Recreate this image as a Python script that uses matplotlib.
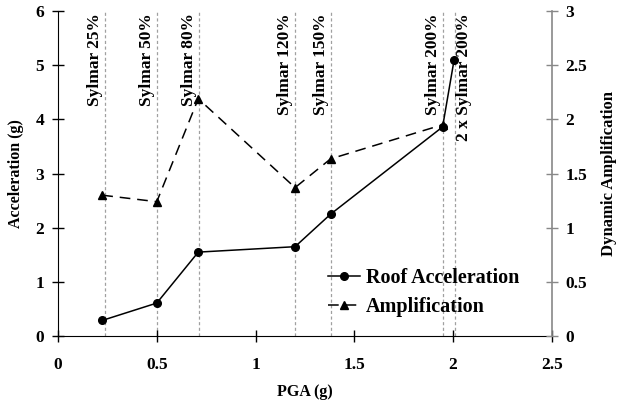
import matplotlib
matplotlib.use("Agg")
import matplotlib.pyplot as plt

plt.rcParams['font.family'] = ['Liberation Serif', 'DejaVu Serif']
plt.rcParams['font.weight'] = 'bold'

# Data
pga_roof = [0.224, 0.50, 0.71, 1.20, 1.38, 1.947, 2.005]
roof_acc = [0.29, 0.61, 1.55, 1.65, 2.25, 3.86, 5.09]
pga_amp = [0.224, 0.50, 0.71, 1.20, 1.38, 1.947]
amplification = [1.30, 1.24, 2.19, 1.37, 1.635, 1.95]

record_pga = [0.238, 0.501, 0.714, 1.199, 1.382, 1.947, 2.009]
record_labels = ['Sylmar 25%', 'Sylmar 50%', 'Sylmar 80%', 'Sylmar 120%',
                 'Sylmar 150%', 'Sylmar 200%', '2 x Sylmar 200%']
x_ticks = [0, 0.5, 1, 1.5, 2, 2.5]
x_ticklabels = ['0', '0.5', '1', '1.5', '2', '2.5']
y_ticks = [0, 1, 2, 3, 4, 5, 6]
y2_ticks = [0, 0.5, 1, 1.5, 2, 2.5, 3]
y2_ticklabels = ['0', '0.5', '1', '1.5', '2', '2.5', '3']

fig = plt.figure(figsize=(6.18, 4.04), dpi=100)
ax = fig.add_axes([0.0939, 0.168, 0.799, 0.805])
ax2 = ax.twinx()

ax.set_xlim(0, 2.5)
ax.set_ylim(0, 6)
ax2.set_ylim(0, 3)

for xv, lab in zip(record_pga, record_labels):
    ax.axvline(xv, color='#a0a0a0', lw=0.9, ls=(0, (2.5, 2)), zorder=1)
    if lab.startswith('2 x'):
        ax.text(xv + 0.004, 5.96, lab, rotation=90, ha='left', va='top',
                fontsize=12.5, fontweight='bold')
    else:
        ax.text(xv - 0.008, 5.96, lab, rotation=90, ha='right', va='top',
                fontsize=12.5, fontweight='bold')

l1, = ax.plot(pga_roof, roof_acc, color='black', lw=1.1, marker='o',
              markersize=5.5, label='Roof Acceleration', zorder=3)
l2, = ax2.plot(pga_amp, amplification, color='black', lw=1.1,
               ls=(0, (7, 4.5)), marker='^', markersize=5.5,
               label='Amplification', zorder=3)

ax.set_xticks(x_ticks)
ax.set_xticklabels(x_ticklabels)
ax.set_yticks(y_ticks)
ax2.set_yticks(y2_ticks)
ax2.set_yticklabels(y2_ticklabels)

ax.tick_params(axis='x', direction='inout', length=8, width=1, pad=11,
               labelsize=12.5)
ax.tick_params(axis='y', direction='inout', length=8, width=1, pad=6,
               labelsize=12.5)
ax2.tick_params(axis='y', direction='inout', length=8, width=1, pad=6,
                labelsize=12.5, color='#888888')
for t in ax.get_xticklabels() + ax.get_yticklabels() + ax2.get_yticklabels():
    t.set_fontweight('bold')

ax.spines['top'].set_visible(False)
ax2.spines['top'].set_visible(False)
ax.spines['right'].set_visible(False)
ax2.spines['left'].set_visible(False)
ax2.spines['right'].set_color('#888888')
ax2.spines['right'].set_linewidth(1.2)
ax2.spines['bottom'].set_visible(False)

ax.set_xlabel('PGA (g)', fontsize=11.5, fontweight='bold', labelpad=8)
ax.set_ylabel('Acceleration (g)', fontsize=11.5, fontweight='bold', labelpad=8)
ax2.set_ylabel('Dynamic Amplification', fontsize=12, fontweight='bold',
               labelpad=10)

leg = ax2.legend(handles=[l1, l2], loc='center left',
                 bbox_to_anchor=(0.53, 0.134), frameon=False,
                 prop={'family': 'Liberation Serif', 'weight': 'bold', 'size': 14.5},
                 handlelength=1.6, handletextpad=0.3, labelspacing=0.45,
                 borderaxespad=0)

fig.savefig('out.png', dpi=100)
